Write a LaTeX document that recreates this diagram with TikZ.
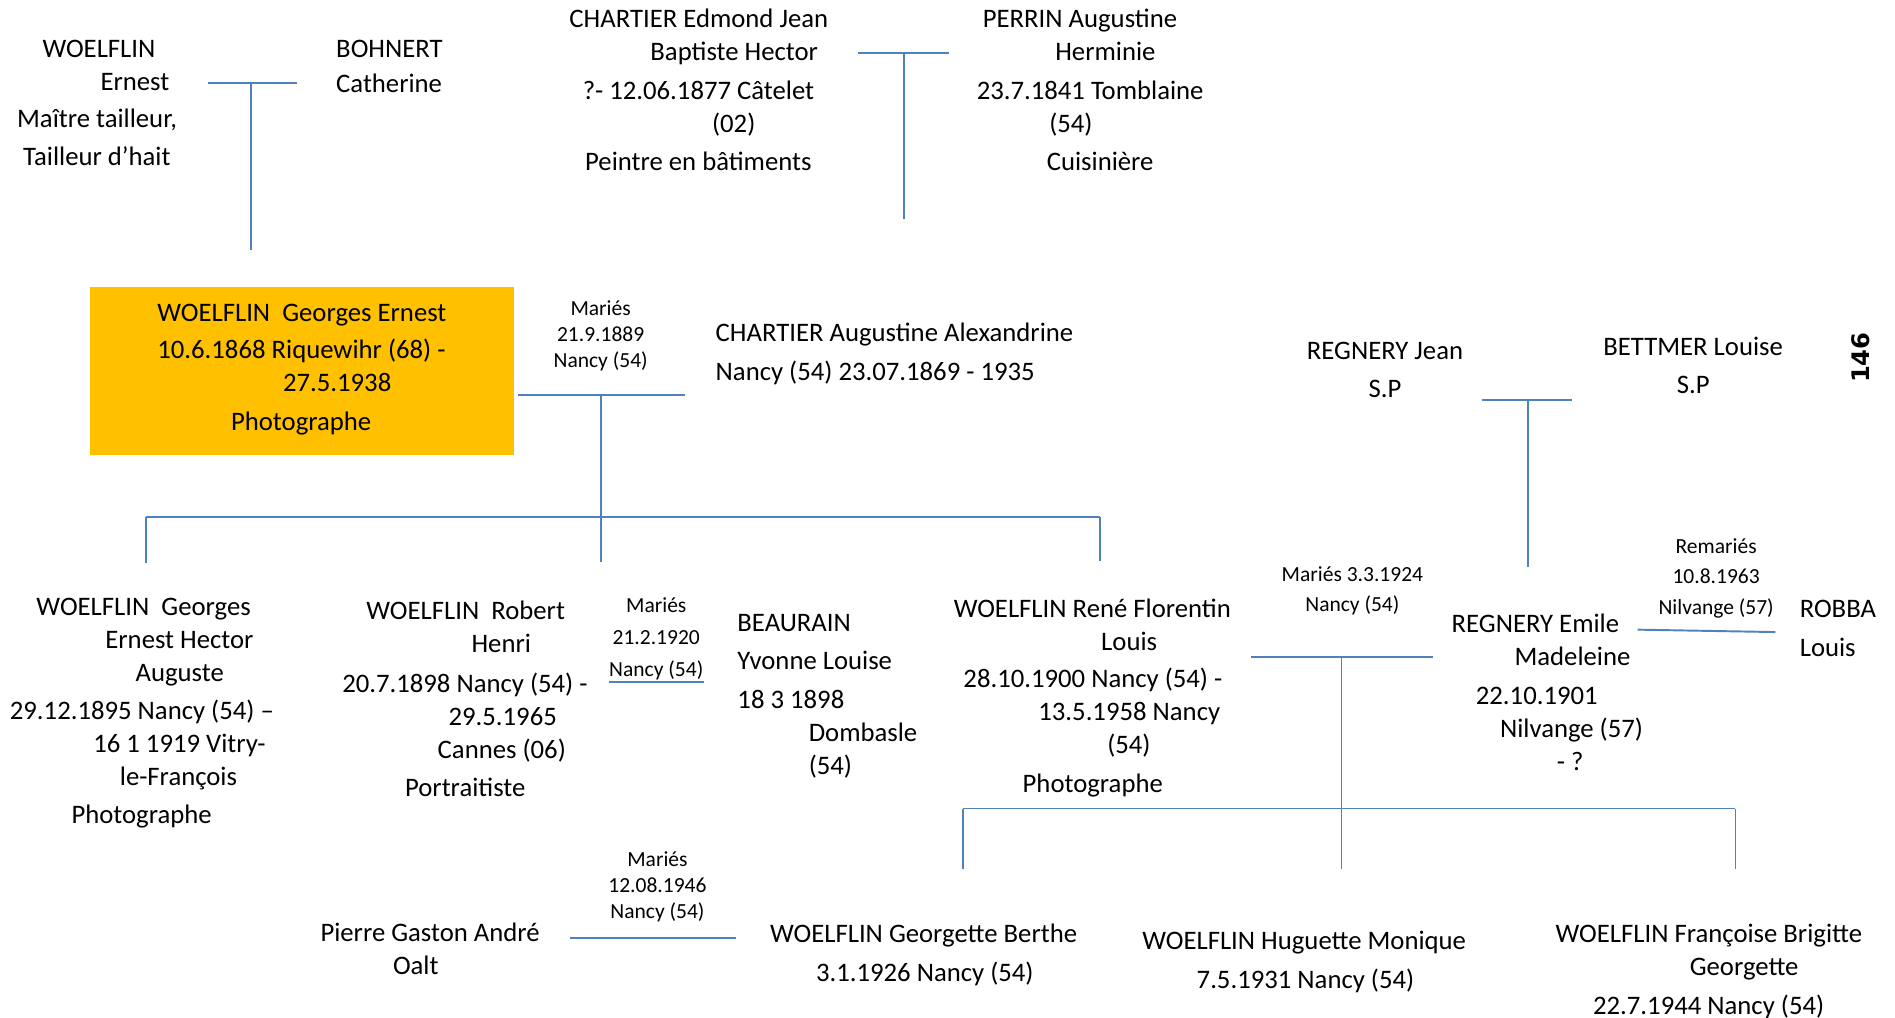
\documentclass[tikz,border=0pt]{standalone}
\usepackage{fontspec}
\setmainfont{Carlito}
\newfontfamily\numfont{DejaVu Sans}
\usetikzlibrary{positioning}
\definecolor{bleulien}{RGB}{79,129,189}
\definecolor{orangegen}{RGB}{255,192,0}

\begin{document}
\begin{tikzpicture}[x=1pt, y=-1pt,
        pers/.style={anchor=north west, align=left, inner sep=0pt,
                     font=\fontsize{22.1}{27.3}\selectfont, execute at begin node=\strut},
        persc/.style={pers, anchor=north, align=center},
        mariage/.style={anchor=north, align=center, inner sep=0pt,
                        font=\fontsize{17.8}{21.6}\selectfont, execute at begin node=\strut},
        lien/.style={draw=bleulien, line width=1.6pt}
    ]
        \useasboundingbox (0,0) rectangle (1568,842);

        \node[pers] (ernest)  at (14,33.1)  {\hspace*{21pt}WOELFLIN\\\hspace*{69pt}Ernest\\[3pt]Maître tailleur,\\[4pt]\hspace*{5pt}Tailleur d’hait};
        \node[pers] (bohnert) at (278,33.1) {BOHNERT\\[2pt]Catherine};
        \node[pers] (edmond)  at (471,7.1)  {CHARTIER Edmond Jean\\\hspace*{67pt}Baptiste Hector\\[5pt]\hspace*{11pt}?- 12.06.1877 Câtelet\\\hspace*{118pt}(02)\\[4pt]\hspace*{13pt}Peintre en bâtiments};
        \node[pers] (perrin)  at (808,7.1)  {\hspace*{5pt}PERRIN Augustine\\\hspace*{65pt}Herminie\\[5pt]23.7.1841 Tomblaine\\\hspace*{60pt}(54)\\[4pt]\hspace*{58pt}Cuisinière};

        \node[fill=orangegen, minimum width=351pt, minimum height=139pt, anchor=north west, inner sep=0pt] (genbox) at (74,237) {};
        \node[pers] (gen) at (130,251.1) {WOELFLIN\ \ Georges Ernest\\[4pt]10.6.1868 Riquewihr (68) -\\\hspace*{104pt}27.5.1938\\[5pt]\hspace*{61pt}Photographe};
        \node[mariage] (mar1) at (497,248.5) {Mariés\\21.9.1889\\Nancy (54)};
        \node[pers] (augustine) at (592,267.1) {CHARTIER Augustine Alexandrine\\[5pt]Nancy (54) 23.07.1869 - 1935};

        \node[pers] (georges) at (8,495.1) {\hspace*{22pt}WOELFLIN\ \ Georges\\\hspace*{79pt}Ernest Hector\\\hspace*{104pt}Auguste\\[4pt]29.12.1895 Nancy (54) –\\\hspace*{69pt}16 1 1919 Vitry-\\\hspace*{91pt}le-François\\[4pt]\hspace*{51pt}Photographe};
        \node[pers] (robert) at (283,497.1) {\hspace*{20pt}WOELFLIN\ \ Robert\\\hspace*{107pt}Henri\\[6pt]20.7.1898 Nancy (54) -\\\hspace*{88pt}29.5.1965\\\hspace*{79pt}Cannes (06)\\[4pt]\hspace*{52pt}Portraitiste};
        \node[mariage] (mar2) at (543,494.5) {Mariés\\[4.6pt]21.2.1920\\[4.6pt]Nancy (54)};
        \node[pers] (beaurain) at (610,508.1) {BEAURAIN\\[4pt]Yvonne Louise\\[5pt]18 3 1898\\\hspace*{59pt}Dombasle\\\hspace*{59pt}(54)};
        \node[pers] (rene) at (789,495.1) {WOELFLIN René Florentin\\\hspace*{122pt}Louis\\[4pt]\hspace*{8pt}28.10.1900 Nancy (54) -\\\hspace*{70pt}13.5.1958 Nancy\\\hspace*{127pt}(54)\\[5pt]\hspace*{57pt}Photographe};

        \node[mariage] (mar3) at (1119,468.5) {Mariés 3.3.1924\\[3.6pt]Nancy (54)};
        \node[persc] (jean)    at (1146,283.1) {REGNERY Jean\\[4pt]S.P};
        \node[persc] (bettmer) at (1401,279.1) {BETTMER Louise\\[4pt]S.P};
        \node[pers] (emile) at (1201,508.1) {REGNERY Emile\\\hspace*{52pt}Madeleine\\[5pt]\hspace*{20pt}22.10.1901\\\hspace*{40pt}Nilvange (57)\\\hspace*{87pt}- ?};
        \node[mariage] (mar4) at (1420,445.5) {Remariés\\[3.6pt]10.8.1963\\[3.6pt]Nilvange (57)};
        \node[pers] (robba) at (1489,496.1) {ROBBA\\[5pt]Louis};
        \node[rotate=90, inner sep=0pt, font=\numfont\bfseries\fontsize{20}{24}\selectfont] (page) at (1540,296) {146};

        \node[mariage] (mar5) at (544,704.5) {Mariés\\12.08.1946\\Nancy (54)};
        \node[pers] (pierre)    at (265,763.1)  {Pierre Gaston André\\\hspace*{60pt}Oalt};
        \node[pers] (georgette) at (637,764.1)  {WOELFLIN Georgette Berthe\\[5pt]\hspace*{38pt}3.1.1926 Nancy (54)};
        \node[pers] (huguette)  at (945,770.1)  {WOELFLIN Huguette Monique\\[5pt]\hspace*{45pt}7.5.1931 Nancy (54)};
        \node[pers] (francoise) at (1287,764.1) {WOELFLIN Françoise Brigitte\\\hspace*{111pt}Georgette\\[5pt]\hspace*{31pt}22.7.1944 Nancy (54)};

        \coordinate (u1g) at (172,69);   \coordinate (u1d) at (246,69);   \coordinate (u1b) at (208,207);
        \coordinate (u2g) at (710,44);   \coordinate (u2d) at (785,44);   \coordinate (u2b) at (748,181);
        \coordinate (u3g) at (429,327);  \coordinate (u3d) at (567,327);  \coordinate (u3b) at (497,465);
        \coordinate (u4g) at (1035,544); \coordinate (u4d) at (1186,544); \coordinate (u4b) at (1110,719);
        \coordinate (u5g) at (1226,331); \coordinate (u5d) at (1301,331); \coordinate (u5b) at (1264,469);
        \coordinate (u6g) at (1355,521); \coordinate (u6d) at (1469,523);
        \coordinate (u7g) at (472,776);  \coordinate (u7d) at (609,776);
        \coordinate (f1g) at (121,428);  \coordinate (f1d) at (910,428);
        \coordinate (e1)  at (121,466);  \coordinate (e3)  at (910,464);
        \coordinate (f2g) at (797,669);  \coordinate (f2d) at (1436,669);
        \coordinate (e4)  at (797,719);  \coordinate (e6)  at (1436,719);

        \draw[lien] (u1g) -- (u1d);  \draw[lien] (u1g -| u1b) -- (u1b);
        \draw[lien] (u2g) -- (u2d);  \draw[lien] (u2g -| u2b) -- (u2b);
        \draw[lien] (u3g) -- (u3d);  \draw[lien] (u3g -| u3b) -- (u3b);
        \draw[lien] (u4g) -- (u4d);  \draw[lien] (u4g -| u4b) -- (u4b);
        \draw[lien] (u5g) -- (u5d);  \draw[lien] (u5g -| u5b) -- (u5b);
        \draw[lien] (u6g) -- (u6d);
        \draw[lien] (u7g) -- (u7d);
        \draw[lien, line width=2pt] ([yshift=1.5pt]mar2.south west) -- ([yshift=1.5pt]mar2.south east);
        \draw[lien] (f1g) -- (f1d);  \draw[lien] (f1g) -- (e1);  \draw[lien] (f1d) -- (e3);
        \draw[lien] (f2g) -- (f2d);  \draw[lien] (f2g) -- (e4);  \draw[lien] (f2d) -- (e6);
    \end{tikzpicture}
\end{document}
